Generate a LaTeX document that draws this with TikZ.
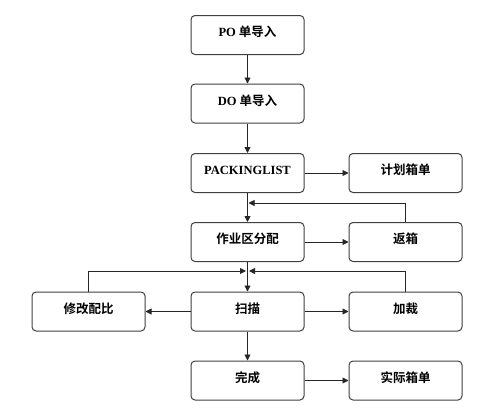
\documentclass[tikz,border=0pt]{standalone}
\usepackage{fontspec}
\setmainfont{Liberation Serif}
\newfontfamily\cjk{Noto Sans CJK SC}[BoldFont={Noto Sans CJK SC Bold}]
\usetikzlibrary{arrows.meta}
\begin{document}
\begin{tikzpicture}[x=1pt,y=-1pt,
  box/.style={draw=black!75, line width=1pt, rounded corners=4pt, minimum width=113pt, minimum height=39pt, inner sep=0pt, text height=9pt, text depth=6pt, font=\fontsize{12.5pt}{14pt}\selectfont\bfseries, fill=white},
  arr/.style={draw=black!85, line width=0.9pt, -{Triangle[length=6pt,width=6pt]}},
  ln/.style={draw=black!85, line width=0.9pt}]
\useasboundingbox (0,0) rectangle (499,408);
\node[box] (po) at (247.5,35) {PO {\cjk 单导入}};
\node[box] (do) at (247.5,103.5) {DO {\cjk 单导入}};
\node[box] (pl) at (247.5,173) {PACKINGLIST};
\node[box] (jh) at (405.5,173) {\cjk 计划箱单};
\node[box] (zy) at (247.5,242) {\cjk 作业区分配};
\node[box] (fx) at (405.5,242) {\cjk 返箱};
\node[box] (sm) at (247.5,311.5) {\cjk 扫描};
\node[box] (xg) at (88.5,311.5) {\cjk 修改配比};
\node[box] (jc) at (405.5,311.5) {\cjk 加裁};
\node[box] (wc) at (247.5,380.5) {\cjk 完成};
\node[box] (sj) at (405.5,380.5) {\cjk 实际箱单};
\coordinate (c1) at (247.5,203);
\coordinate (c2) at (247.5,271);
\draw[arr] (po) -- (do);
\draw[arr] (do) -- (pl);
\draw[arr] (pl) -- (zy);
\draw[arr] (pl) -- (jh);
\draw[arr] (zy) -- (fx);
\draw[arr] (fx.north) |- ([xshift=1pt]c1);
\draw[arr] (zy) -- (sm);
\draw[arr] (xg.north) |- ([xshift=-1.5pt]c2);
\draw[arr] (jc.north) |- ([xshift=1.5pt]c2);
\draw[arr] (sm) -- (xg);
\draw[arr] (sm) -- (jc);
\draw[arr] (sm) -- (wc);
\draw[arr] (wc) -- (sj);
\end{tikzpicture}
\end{document}
